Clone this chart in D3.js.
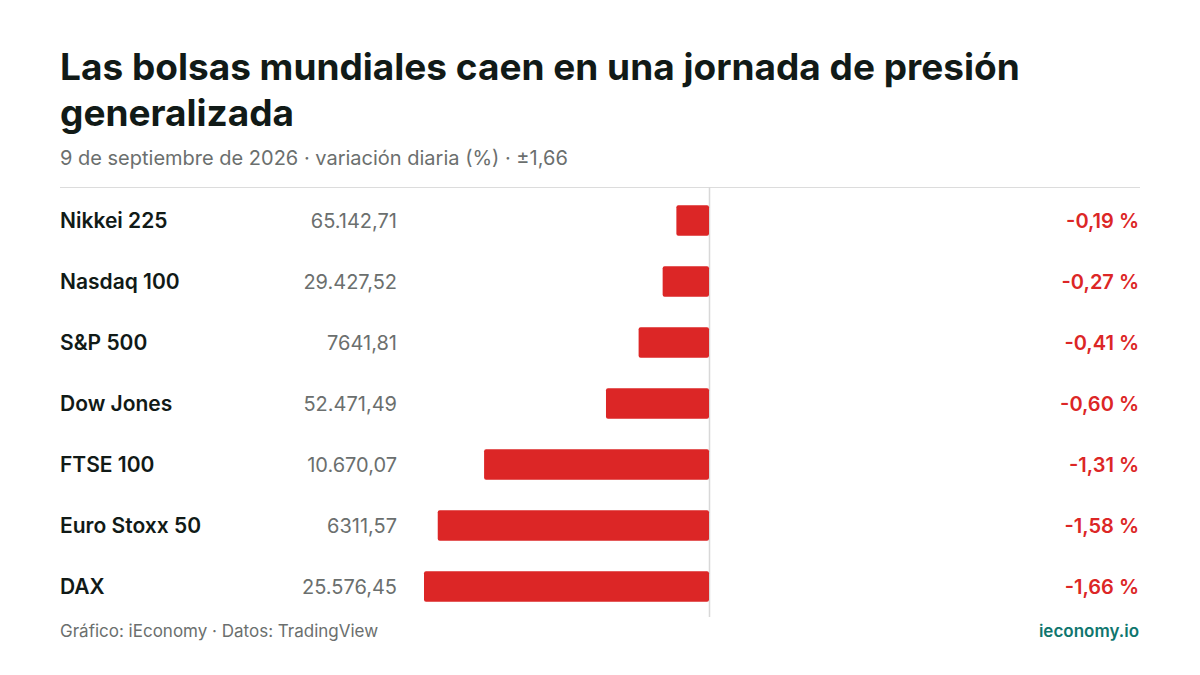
<!DOCTYPE html>
<html><head><meta charset="utf-8">
<script src="https://cdn.jsdelivr.net/npm/d3@7"></script>
<style>body{margin:0;background:#fff;font-family:Inter,"Noto Sans",sans-serif;}</style>
</head><body><div id="chart"></div>
<script>
// data
var names = ["Nikkei 225", "Nasdaq 100", "S&P 500", "Dow Jones", "FTSE 100", "Euro Stoxx 50", "DAX"];
var levels = ["65.142,71", "29.427,52", "7641,81", "52.471,49", "10.670,07", "6311,57", "25.576,45"];
var changes = [-0.19, -0.27, -0.41, -0.60, -1.31, -1.58, -1.66];

var W = 1200, H = 675;
var svg = d3.select("#chart").append("svg").attr("width", W).attr("height", H);

svg.append("text").attr("x", 60).attr("y", 80).attr("font-size", 37).attr("font-weight", 700)
  .attr("fill", "#111a17").text("Las bolsas mundiales caen en una jornada de presión");
svg.append("text").attr("x", 60).attr("y", 126).attr("font-size", 37).attr("font-weight", 700)
  .attr("fill", "#111a17").text("generalizada");
svg.append("text").attr("x", 60).attr("y", 165).attr("font-size", 20).attr("fill", "#6b6f6e")
  .text("9 de septiembre de 2026 · variación diaria (%) · ±1,66");
svg.append("line").attr("x1", 60).attr("x2", 1140).attr("y1", 187.5).attr("y2", 187.5).attr("stroke", "#dcdcdc");

var x = d3.scaleLinear().domain([-1.66, 1.66]).range([424, 994]);
var y = d3.scaleBand().domain(names).range([190, 617]).paddingInner(0.5).paddingOuter(0.25);

svg.append("line").attr("x1", x(0) + 0.5).attr("x2", x(0) + 0.5).attr("y1", 187).attr("y2", 617)
  .attr("stroke", "#d8d8d8").attr("stroke-width", 1.5);

var row = svg.selectAll("g.row").data(names).enter().append("g").attr("class", "row");
row.append("rect").attr("x", function(d, i) { return x(changes[i]); })
  .attr("y", function(d) { return y(d); })
  .attr("width", function(d, i) { return x(0) - x(changes[i]); })
  .attr("height", y.bandwidth()).attr("rx", 2).attr("fill", "#dc2626");
row.append("text").attr("x", 60).attr("y", function(d) { return y(d) + y.bandwidth() / 2; })
  .attr("dy", "0.35em").attr("font-size", 21).attr("font-weight", 600).attr("fill", "#111a17").text(function(d) { return d; });
row.append("text").attr("x", 397).attr("y", function(d) { return y(d) + y.bandwidth() / 2; })
  .attr("dy", "0.35em").attr("text-anchor", "end").attr("font-size", 20).attr("fill", "#6b6f6e")
  .text(function(d, i) { return levels[i]; });
row.append("text").attr("x", 1139).attr("y", function(d) { return y(d) + y.bandwidth() / 2; })
  .attr("dy", "0.35em").attr("text-anchor", "end").attr("font-size", 20).attr("font-weight", 600).attr("fill", "#dc2626")
  .text(function(d, i) { return changes[i].toFixed(2).replace(".", ",") + " %"; });

svg.append("text").attr("x", 60).attr("y", 637).attr("font-size", 17).attr("fill", "#6b6f6e")
  .text("Gráfico: iEconomy · Datos: TradingView");
svg.append("text").attr("x", 1139).attr("y", 637).attr("text-anchor", "end").attr("font-size", 17)
  .attr("font-weight", 600).attr("fill", "#0f766e").text("ieconomy.io");
</script></body></html>
